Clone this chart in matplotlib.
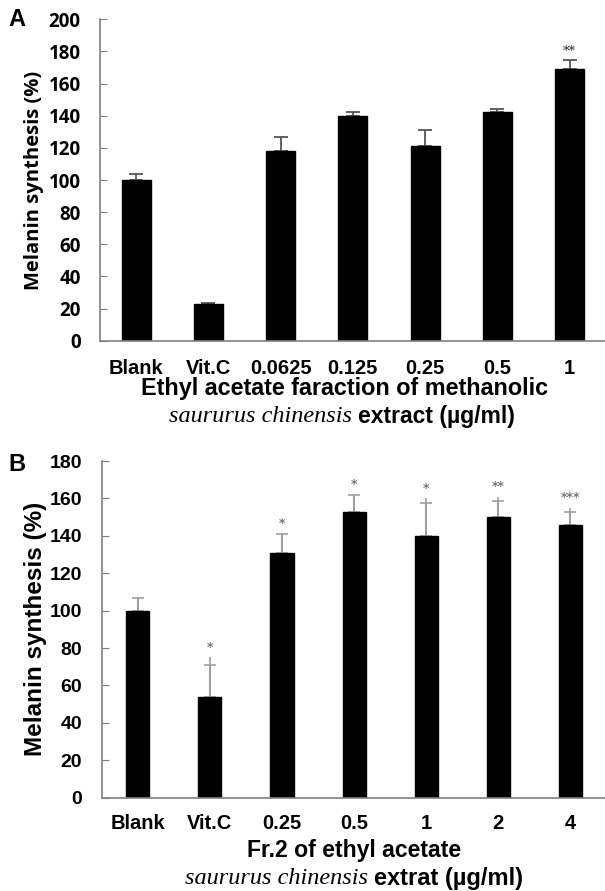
import matplotlib
matplotlib.use("Agg")
import matplotlib.pyplot as plt

# panel A data
labels_a = ["Blank", "Vit.C", "0.0625", "0.125", "0.25", "0.5", "1"]
mean_a = [100, 23, 118, 140, 121, 142.5, 169]
err_a = [3.5, 0.5, 9, 2.5, 10, 1.5, 5.5]
sig_a = ["", "", "", "", "", "", "**"]

# panel B data
labels_b = ["Blank", "Vit.C", "0.25", "0.5", "1", "2", "4"]
mean_b = [100, 54, 131, 152.5, 140, 150, 146]
err_b = [6.6, 16.7, 10, 9.5, 17.5, 8.5, 6.5]
tip_b = [107, 75, 141, 162, 160, 161, 155]
sig_b = ["", "*", "*", "*", "*", "**", "***"]

SANS = "Liberation Sans"
GRAY = "#7f7f7f"

fig = plt.figure(figsize=(6.05, 8.91), dpi=100)

# A
ax1 = fig.add_axes([0.1653, 0.6176, 0.8347, 0.3607])
x = range(len(labels_a))
ax1.bar(x, mean_a, width=0.40, color="black", edgecolor="black", zorder=2)
ax1.errorbar(x, mean_a, yerr=[[0] * len(err_a), err_a], fmt="none",
             ecolor="#555555", elinewidth=1.3, capsize=5, capthick=1.3, zorder=1)
for i, s in enumerate(sig_a):
    if s:
        ax1.text(i, mean_a[i] + err_a[i] + 2, s, ha="center", va="bottom",
                 fontsize=9, color="#555555", fontweight="bold")
ax1.set_xlim(-0.5, 6.49)
ax1.set_ylim(0, 200)
ax1.set_yticks(range(0, 201, 20))
ax1.set_xticks(list(x))
ax1.set_xticklabels(labels_a, fontsize=14.5, fontweight="bold", family=SANS)
for t in ax1.get_yticklabels():
    t.set_fontsize(13.5)
    t.set_fontweight("bold")
    t.set_family("Open Sans")
ax1.tick_params(axis="x", length=0, pad=13)
ax1.tick_params(axis="y", length=5, color=GRAY, direction="in", pad=14)
for side in ["top", "right"]:
    ax1.spines[side].set_visible(False)
for side in ["left", "bottom"]:
    ax1.spines[side].set_color(GRAY)
    ax1.spines[side].set_linewidth(1.2)
ax1.set_ylabel("Melanin synthesis (%)", fontsize=14.5, fontweight="bold",
               family="Open Sans", labelpad=3)
fig.text(345 / 605, 1 - 389 / 891, "Ethyl acetate faraction of methanolic",
         ha="center", va="center", fontsize=16.8, fontweight="bold", family=SANS)
fig.text(352 / 605, 1 - 416 / 891, "saururus chinensis", ha="right", va="center",
         fontsize=17.5, style="italic", family="Liberation Serif")
fig.text(358 / 605, 1 - 416 / 891, "extract (µg/ml)", ha="left", va="center",
         fontsize=16.5, fontweight="bold", family=SANS)
fig.text(8 / 605, 1 - 20 / 891, "A", ha="left", va="center",
         fontsize=17, fontweight="bold", family=SANS)

# B
ax2 = fig.add_axes([0.1681, 0.1047, 0.8319, 0.3779])
x = range(len(labels_b))
ax2.bar(x, mean_b, width=0.32, color="black", edgecolor="black", zorder=2)
ax2.vlines(x, mean_b, tip_b, color="#999999", linewidth=1.1, zorder=1)
ax2.errorbar(x, mean_b, yerr=[[0] * len(err_b), err_b], fmt="none",
             ecolor="#999999", elinewidth=1.1, capsize=4, capthick=1.1, zorder=1)
for i, s in enumerate(sig_b):
    if s:
        ax2.text(i, tip_b[i] + 2, s, ha="center", va="bottom",
                 fontsize=9, color="#777777", fontweight="bold")
ax2.set_xlim(-0.5, 6.48)
ax2.set_ylim(0, 180)
ax2.set_yticks(range(0, 181, 20))
ax2.set_xticks(list(x))
ax2.set_xticklabels(labels_b, fontsize=14.5, fontweight="bold", family=SANS)
for t in ax2.get_yticklabels():
    t.set_fontsize(14)
    t.set_fontweight("bold")
    t.set_family(SANS)
ax2.tick_params(axis="x", length=0, pad=12)
ax2.tick_params(axis="y", length=5, color=GRAY, direction="in", pad=14)
for side in ["top", "right"]:
    ax2.spines[side].set_visible(False)
for side in ["left", "bottom"]:
    ax2.spines[side].set_color(GRAY)
    ax2.spines[side].set_linewidth(1.2)
ax2.set_ylabel("Melanin synthesis (%)", fontsize=17.5, fontweight="bold",
               family=SANS, labelpad=2)
fig.text(354.5 / 605, 1 - 851 / 891, "Fr.2 of ethyl acetate",
         ha="center", va="center", fontsize=16.6, fontweight="bold", family=SANS)
fig.text(368 / 605, 1 - 878 / 891, "saururus chinensis", ha="right", va="center",
         fontsize=17.5, style="italic", family="Liberation Serif")
fig.text(374 / 605, 1 - 878 / 891, "extrat (µg/ml)", ha="left", va="center",
         fontsize=17, fontweight="bold", family=SANS)
fig.text(8 / 605, 1 - 465 / 891, "B", ha="left", va="center",
         fontsize=17, fontweight="bold", family=SANS)

fig.savefig("out.png", dpi=100)
